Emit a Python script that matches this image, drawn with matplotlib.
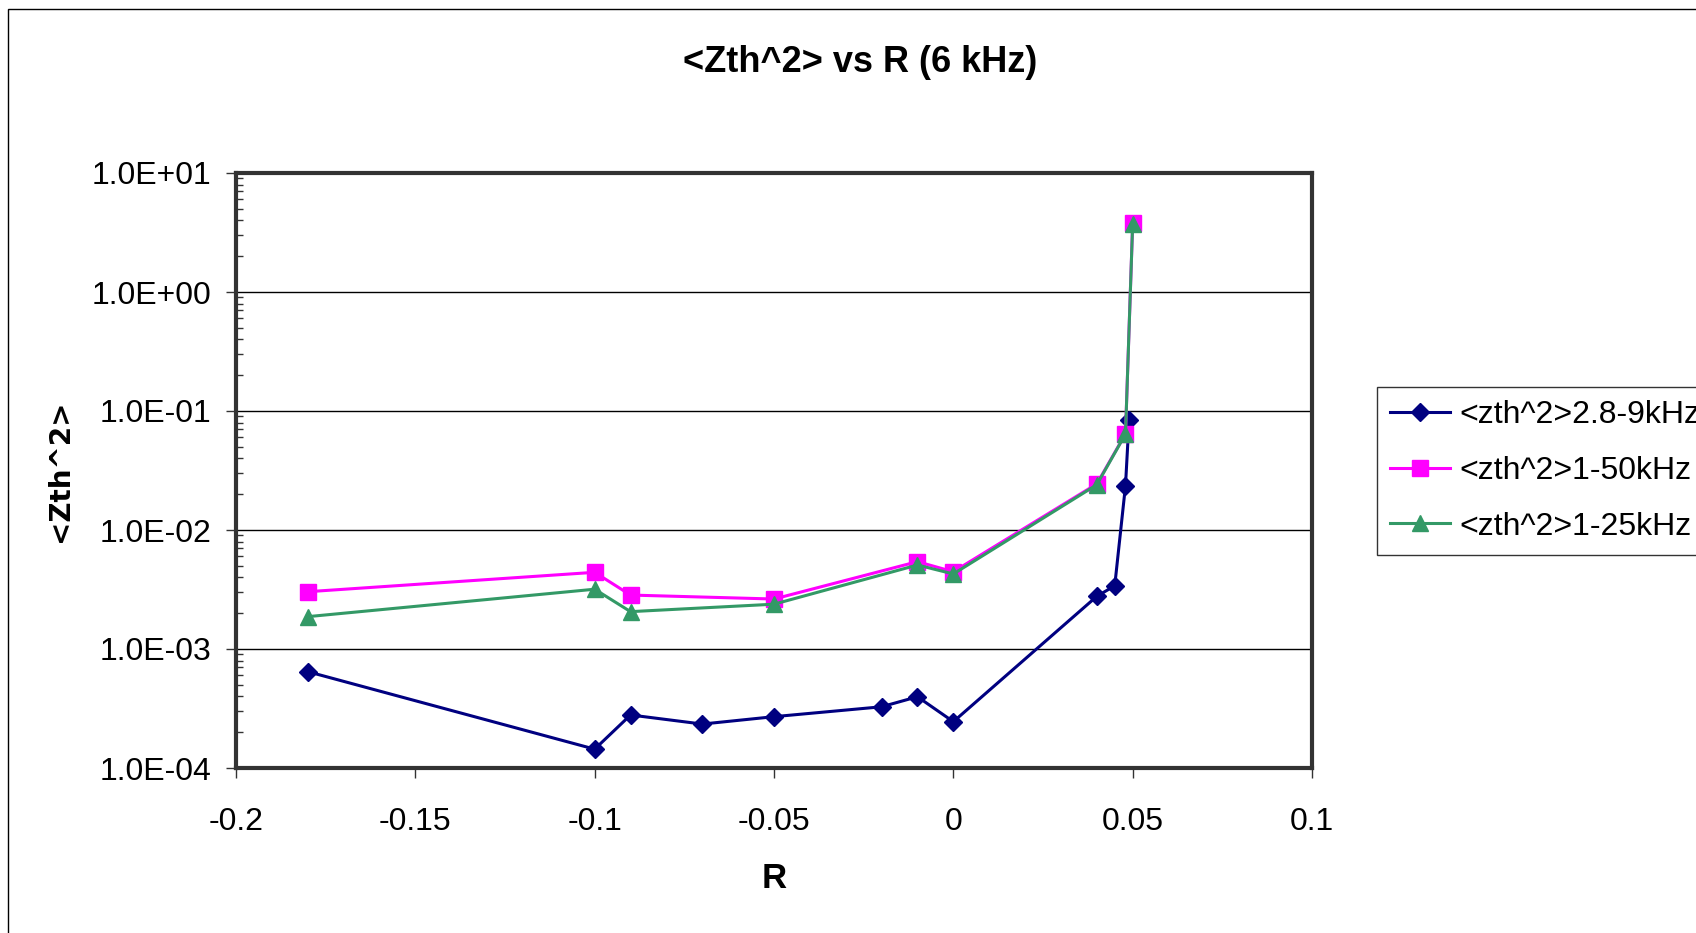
import matplotlib

matplotlib.use("Agg")
import matplotlib.pyplot as plt
from matplotlib.patches import Rectangle
from matplotlib.ticker import FixedLocator, FuncFormatter, LogLocator, NullFormatter

plt.rcParams["font.family"] = ["Liberation Sans", "DejaVu Sans"]

# values
r_28_9 = [-0.18, -0.1, -0.09, -0.07, -0.05, -0.02, -0.01, 0.0, 0.04, 0.045, 0.048, 0.049]
zth_28_9 = [6.45e-4, 1.44e-4, 2.79e-4, 2.34e-4, 2.70e-4, 3.27e-4, 3.97e-4, 2.45e-4,
            2.77e-3, 3.40e-3, 2.36e-2, 8.47e-2]

r_wide = [-0.18, -0.1, -0.09, -0.05, -0.01, 0.0, 0.04, 0.048, 0.05]
zth_1_50 = [3.03e-3, 4.41e-3, 2.84e-3, 2.63e-3, 5.42e-3, 4.46e-3, 2.44e-2, 6.43e-2, 3.78]
zth_1_25 = [1.87e-3, 3.18e-3, 2.06e-3, 2.38e-3, 5.08e-3, 4.27e-3, 2.40e-2, 6.40e-2, 3.74]

x_ticks = [-0.2, -0.15, -0.1, -0.05, 0.0, 0.05, 0.1]
x_labels = ["-0.2", "-0.15", "-0.1", "-0.05", "0", "0.05", "0.1"]

fig = plt.figure(figsize=(16.96, 9.33), dpi=100)
ax = fig.add_axes([236 / 1696, 165 / 933, 1076 / 1696, 595 / 933])

ax.plot(r_28_9, zth_28_9, color="#000080", lw=2.2, marker="D", ms=9,
        mec="#000080", mfc="#000080", label="<zth^2>2.8-9kHz")
ax.plot(r_wide, zth_1_50, color="#FF00FF", lw=2.2, marker="s", ms=11.5,
        mec="#FF00FF", mfc="#FF00FF", label="<zth^2>1-50kHz")
ax.plot(r_wide, zth_1_25, color="#339966", lw=2.2, marker="^", ms=12,
        mec="#339966", mfc="#339966", label="<zth^2>1-25kHz")

ax.set_yscale("log")
ax.set_ylim(1e-4, 1e1)
ax.set_xlim(-0.2, 0.1)
ax.xaxis.set_major_locator(FixedLocator(x_ticks))
ax.set_xticklabels(x_labels)
ax.yaxis.set_major_locator(LogLocator(base=10, numticks=10))
ax.yaxis.set_minor_locator(LogLocator(base=10, subs=range(2, 10), numticks=20))
ax.yaxis.set_minor_formatter(NullFormatter())
ax.yaxis.set_major_formatter(FuncFormatter(lambda v, _: f"{v:.1E}"))

ax.grid(True, which="major", axis="y", color="black", lw=1)
ax.tick_params(axis="both", which="major", direction="out", length=7, width=1,
               labelsize=23, color="#333333")
ax.tick_params(axis="x", pad=21)
ax.tick_params(axis="y", pad=11)
ax.tick_params(axis="y", which="minor", direction="in", length=5, width=1, color="#333333")
for sp in ax.spines.values():
    sp.set_linewidth(3)
    sp.set_color("#333333")

ax.set_xlabel("R", fontsize=25, fontweight="bold")
ax.xaxis.set_label_coords(0.5, -0.158)
ax.set_ylabel("<Zth^2>", fontsize=20, fontweight="bold", family="DejaVu Sans")
ax.yaxis.set_label_coords(-0.151, 0.5)

fig.text(860 / 1696, 1 - 62 / 933, "<Zth^2> vs R (6 kHz)", fontsize=26,
         fontweight="bold", ha="center", va="center")

leg = ax.legend(loc="upper left", bbox_to_anchor=(1377 / 1696, 1 - 387 / 933),
                bbox_transform=fig.transFigure, borderaxespad=0, fontsize=23,
                frameon=True, fancybox=False, edgecolor="black", handlelength=1.85,
                handletextpad=0.3, borderpad=0.42, labelspacing=0.8)
leg.get_frame().set_linewidth(1)

fig.add_artist(Rectangle((8 / 1696, -0.5), 2, 1.5 - 9 / 933, transform=fig.transFigure,
                         fill=False, lw=1, ec="black"))

fig.savefig("out.png", dpi=100)
